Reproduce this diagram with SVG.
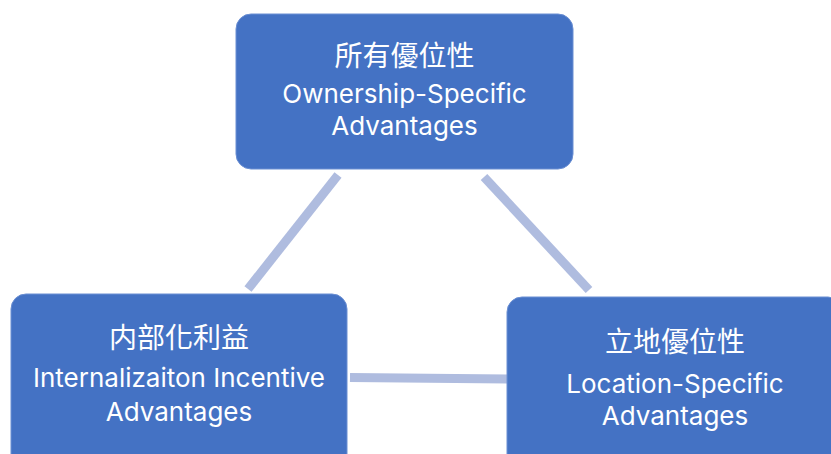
<svg xmlns="http://www.w3.org/2000/svg" width="831" height="454" viewBox="0 0 831 454">
  <style>
    .box { fill: #4472C4; stroke: #6B8FD3; stroke-width: 1; }
    .link { stroke: #AFBCDF; stroke-width: 9; stroke-linecap: butt; fill: none; }
    .zh { font-family: "Noto Sans CJK TC", "Noto Sans CJK SC", sans-serif; font-size: 28px; fill: #FFFFFF; text-anchor: middle; }
    .en { font-family: Inter, "Liberation Sans", sans-serif; font-size: 26px; fill: #FFFFFF; text-anchor: middle; }
  </style>
  <rect width="831" height="454" fill="#FFFFFF"/>

  <!-- connectors between the three advantage boxes -->
  <g id="connectors">
    <line class="link" x1="338" y1="175" x2="248" y2="289"/>
    <line class="link" x1="484" y1="177" x2="589" y2="290"/>
    <line class="link" x1="350" y1="377.5" x2="508" y2="379" stroke-width="10"/>
  </g>

  <g id="ownership">
    <rect class="box" x="236" y="14" width="337" height="155" rx="15"/>
    <text class="zh" x="404.5" y="66">所有優位性</text>
    <text class="en" x="404.5" y="103">Ownership-Specific</text>
    <text class="en" x="404.5" y="135">Advantages</text>
  </g>

  <g id="internalization">
    <rect class="box" x="11" y="294" width="336" height="180" rx="15"/>
    <text class="zh" x="179" y="348">内部化利益</text>
    <text class="en" x="179" y="387">Internalizaiton Incentive</text>
    <text class="en" x="179" y="421">Advantages</text>
  </g>

  <g id="location">
    <rect class="box" x="507" y="297" width="336" height="180" rx="15"/>
    <text class="zh" x="675" y="352">立地優位性</text>
    <text class="en" x="675" y="393">Location-Specific</text>
    <text class="en" x="675" y="425">Advantages</text>
  </g>
</svg>
